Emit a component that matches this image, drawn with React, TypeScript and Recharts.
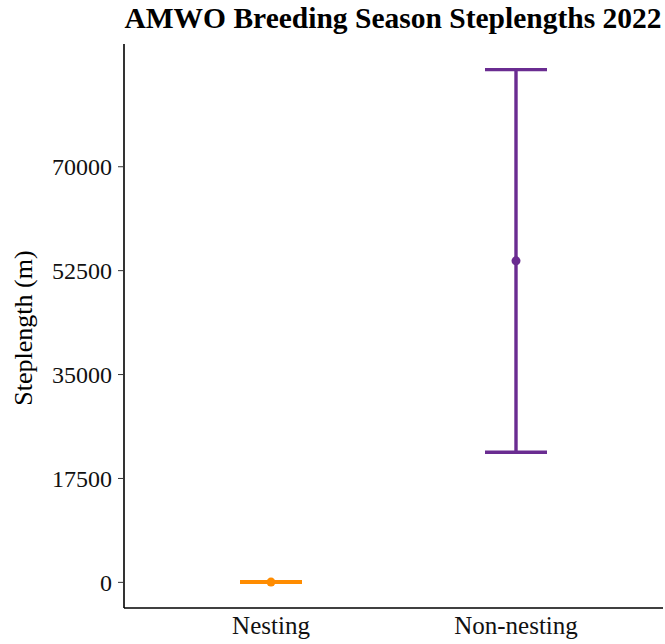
import React from "react";
import { ComposedChart, Scatter, ErrorBar, XAxis, YAxis, Label } from "recharts";

const categories = ["Nesting", "Non-nesting"];
const means = [50, 54150];
const lowers = [0, 21910];
const uppers = [100, 86350];
const colors = ["#FF8C00", "#6A2C91"];
const yTicks = [0, 17500, 35000, 52500, 70000];

const FONT = "'Liberation Serif', 'Times New Roman', serif";

const series = categories.map((c, i) => [
  {
    x: i + 1,
    y: means[i],
    err: [means[i] - lowers[i], uppers[i] - means[i]],
  },
]);

const YLabel = (props: any) => {
  const vb = props.viewBox || {};
  const cx = 23;
  const cy = vb.y + vb.height / 2 + 2;
  return (
    <text
      x={cx}
      y={cy}
      transform={`rotate(-90, ${cx}, ${cy})`}
      textAnchor="middle"
      dominantBaseline="central"
      fontFamily={FONT}
      fontSize={26}
      fill="#000"
    >
      Steplength (m)
    </text>
  );
};

export default function App() {
  return (
    <div style={{ position: "absolute", left: 0, top: 0, width: 665, height: 644, background: "#fff" }}>
      <svg width={665} height={44} style={{ position: "absolute", left: 0, top: 0 }}>
        <text x={393} y={28} textAnchor="middle" fontFamily={FONT} fontWeight="bold" fontSize={29.5} fill="#000">
          AMWO Breeding Season Steplengths 2022
        </text>
      </svg>
      <ComposedChart width={665} height={644} margin={{ top: 44, right: 2, bottom: 0, left: 0 }}>
        <XAxis
          type="number"
          dataKey="x"
          domain={[0.4, 2.6]}
          ticks={[1, 2]}
          tickFormatter={(v: number) => categories[v - 1]}
          allowDataOverflow
          height={36}
          axisLine={{ stroke: "#000", strokeWidth: 1.6 }}
          tickLine={false}
          tickSize={6}
          tickMargin={2}
          tick={{ fontFamily: FONT, fontSize: 25, fill: "#111" }}
        />
        <YAxis
          type="number"
          dataKey="y"
          domain={[-4318, 90672]}
          ticks={yTicks}
          allowDataOverflow
          width={124}
          axisLine={{ stroke: "#000", strokeWidth: 1.6 }}
          tickLine={{ stroke: "#333", strokeWidth: 1 }}
          tickSize={6}
          tickMargin={6}
          tick={{ fontFamily: FONT, fontSize: 24, fill: "#111" }}
        >
          <Label content={<YLabel />} />
        </YAxis>
        {series.map((d, i) => (
          <Scatter
            key={categories[i]}
            data={d}
            fill={colors[i]}
            isAnimationActive={false}
            shape={(p: any) => <circle cx={p.cx} cy={p.cy} r={4.5} fill={colors[i]} />}
          >
            <ErrorBar dataKey="err" direction="y" width={31} stroke={colors[i]} strokeWidth={3.4} />
          </Scatter>
        ))}
      </ComposedChart>
    </div>
  );
}
